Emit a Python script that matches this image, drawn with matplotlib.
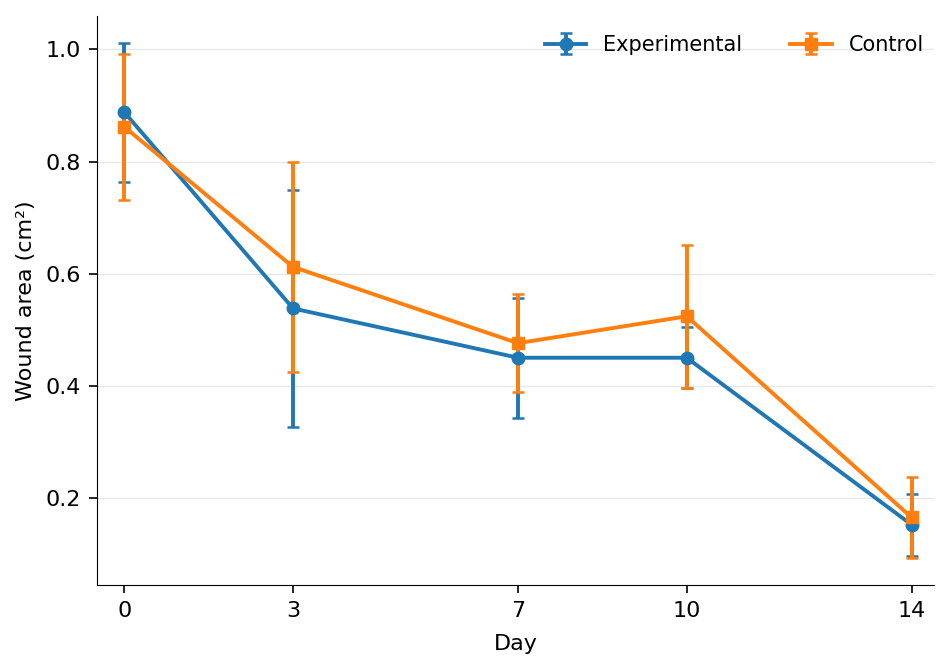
import matplotlib
matplotlib.use('Agg')
import matplotlib.pyplot as plt

days = [0, 3, 7, 10, 14]

exp_mean = [0.888, 0.538, 0.450, 0.450, 0.152]
exp_err = [0.124, 0.212, 0.107, 0.054, 0.055]

ctrl_mean = [0.862, 0.612, 0.476, 0.524, 0.165]
ctrl_err = [0.130, 0.188, 0.087, 0.128, 0.073]

fig, ax = plt.subplots(figsize=(9.36, 6.57), dpi=100)

ax.errorbar(days, exp_mean, yerr=exp_err, color='#1f77b4', marker='o',
            markersize=9, linewidth=2.8, elinewidth=2.8, capsize=4.5,
            capthick=1.8, label='Experimental')
ax.errorbar(days, ctrl_mean, yerr=ctrl_err, color='#ff7f0e', marker='s',
            markersize=9, linewidth=2.8, elinewidth=2.8, capsize=4.5,
            capthick=1.8, label='Control')

ax.set_xticks(days)
ax.set_xlim(-0.48, 14.4)
ax.set_ylim(0.045, 1.059)
ax.set_yticks([0.2, 0.4, 0.6, 0.8, 1.0])
ax.tick_params(labelsize=16, length=5.5, width=1.2, pad=6.5)
ax.set_xlabel('Day', fontsize=16, labelpad=9)
ax.set_ylabel('Wound area (cm²)', fontsize=16, labelpad=7)
ax.yaxis.grid(True, color='#e8e8e8', linewidth=1)
ax.set_axisbelow(True)
ax.spines['top'].set_visible(False)
ax.spines['right'].set_visible(False)
ax.legend(loc='upper right', bbox_to_anchor=(1.01, 1.0), ncol=2,
          frameon=False, fontsize=15, borderaxespad=0.5, columnspacing=2.3)

fig.subplots_adjust(left=0.104, right=0.998, top=0.975, bottom=0.11)
fig.savefig('out.png', dpi=100)
